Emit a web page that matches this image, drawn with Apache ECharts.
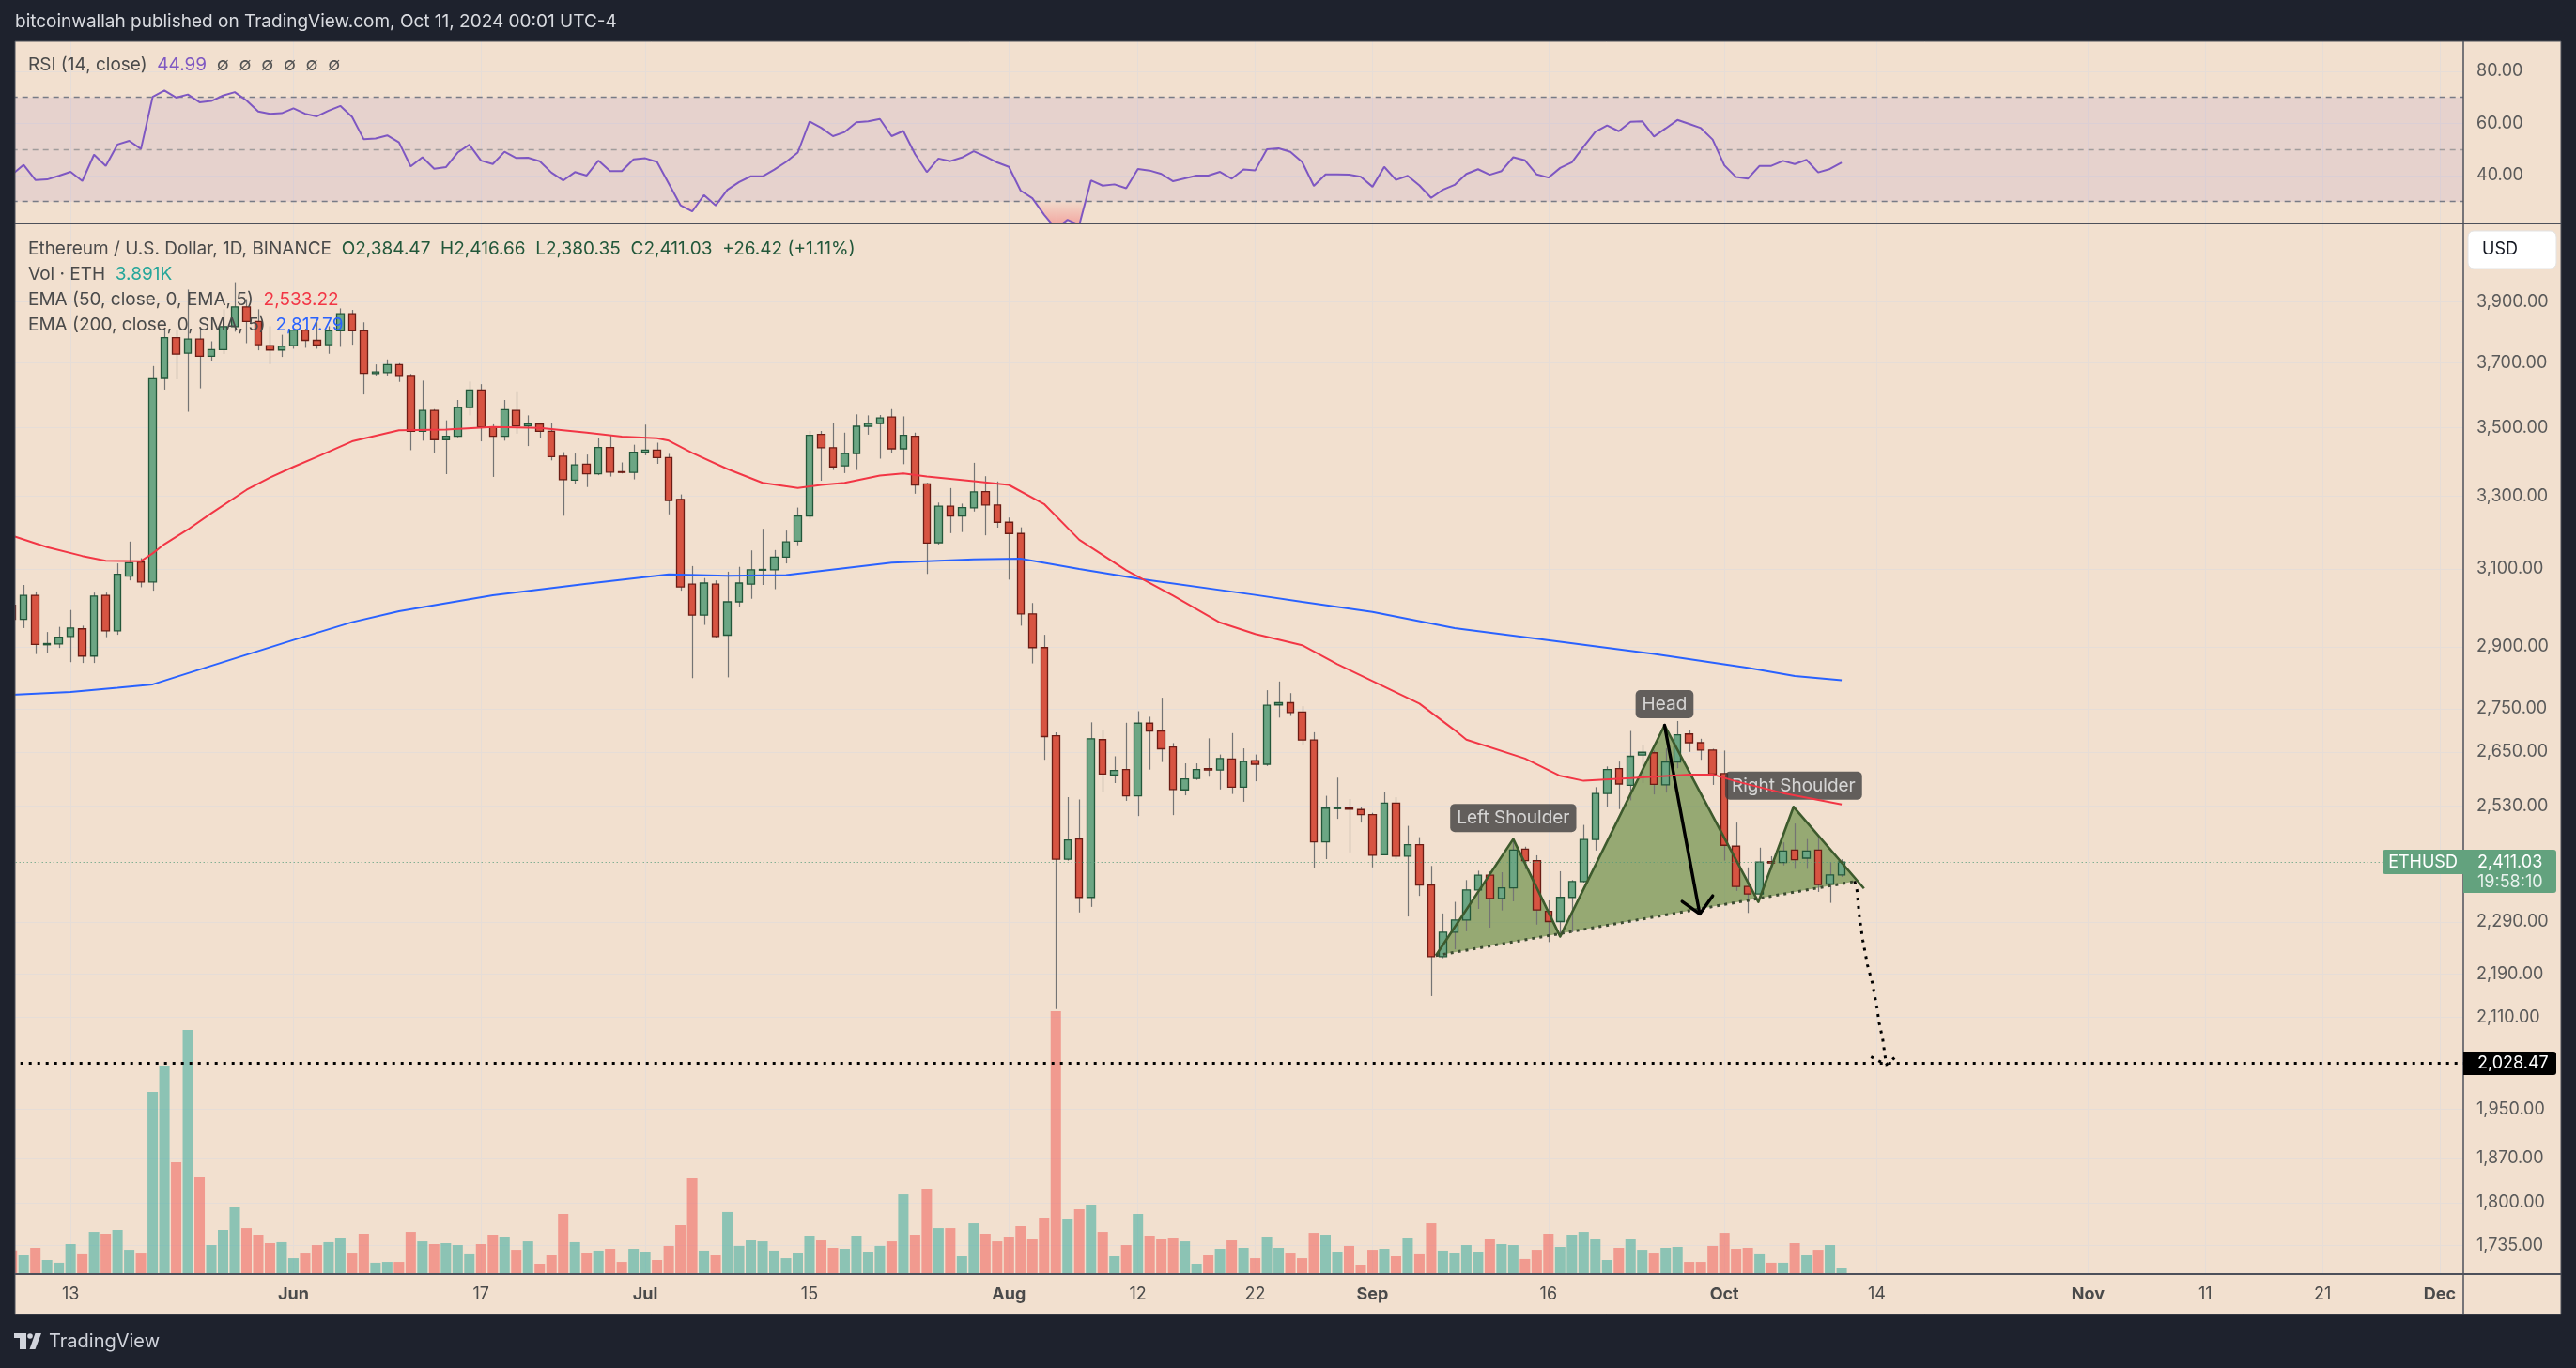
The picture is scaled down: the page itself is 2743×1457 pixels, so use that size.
<!DOCTYPE html>
<html>
<head>
<meta charset="utf-8">
<script src="https://cdn.jsdelivr.net/npm/echarts@6/dist/echarts.min.js"></script>
<style>
html,body{margin:0;padding:0;background:#1e222d;}
#c{width:2743px;height:1457px;}
</style>
</head>
<body>
<div id="c"></div>
<script>
// ---------------- DATA ----------------
const firstDay = [2024, 4, 8];   // 2024-05-08 (month is 0-based)
const dayCount = 210;            // through 2024-12-03

const openP = [3005,2969,3031,2905,2907,2926,2945,2877,3031,2940,
3081,3119,3066,3651,3781,3731,3776,3721,3742,3817,
3882,3834,3755,3741,3755,3805,3772,3758,3803,3859,
3803,3666,3669,3694,3660,3489,3552,3464,3474,3561,
3615,3502,3474,3552,3505,3511,3489,3415,3346,3392,
3364,3441,3370,3368,3427,3433,3411,3291,3060,2980,
3060,2929,3014,3060,3097,3098,3132,3175,3244,3480,
3440,3387,3423,3504,3512,3532,3437,3474,3335,3171,
3272,3244,3267,3313,3275,3227,3196,2983,2898,2687,
2417,2459,2339,2678,2598,2610,2552,2716,2698,2661,
2565,2590,2612,2609,2634,2571,2630,2622,2759,2764,
2742,2677,2453,2524,2526,2522,2511,2426,2536,2423,
2447,2364,2223,2270,2294,2354,2384,2337,2358,2438,
2414,2311,2291,2339,2371,2458,2557,2612,2575,2643,
2648,2576,2627,2691,2671,2654,2601,2444,2361,2346,
2412,2410,2436,2419,2436,2366,2384.47];

const highP = [3015,3058,3041,2937,2950,2993,2953,3038,3038,3115,
3174,3129,3690,3810,3805,3940,3810,3769,3874,3965,
3908,3874,3818,3790,3810,3810,3833,3818,3877,3872,
3831,3695,3711,3699,3665,3644,3556,3522,3584,3641,
3633,3510,3584,3611,3537,3514,3514,3427,3423,3420,
3468,3478,3397,3449,3509,3455,3422,3305,3108,3076,
3070,3093,3106,3150,3209,3151,3204,3268,3490,3490,
3514,3485,3540,3537,3538,3556,3534,3485,3338,3282,
3323,3279,3396,3357,3342,3240,3213,3011,2930,2695,
2549,2544,2718,2700,2640,2717,2744,2731,2776,2670,
2624,2624,2681,2644,2693,2658,2644,2794,2815,2787,
2756,2695,2552,2592,2545,2528,2515,2561,2549,2487,
2463,2403,2307,2330,2374,2393,2392,2390,2459,2443,
2425,2333,2392,2374,2489,2571,2617,2628,2698,2665,
2653,2658,2721,2700,2680,2657,2653,2494,2400,2441,
2423,2452,2492,2459,2466,2411,2416.66];

const lowP = [2950,2947,2882,2885,2897,2862,2860,2860,2924,2930,
3070,3052,3043,3616,3648,3548,3620,3706,3728,3800,
3763,3740,3696,3719,3745,3748,3745,3729,3751,3758,
3601,3660,3660,3640,3433,3461,3425,3363,3471,3537,
3459,3355,3461,3482,3445,3470,3403,3245,3335,3326,
3360,3356,3365,3348,3418,3393,3249,3043,2823,2955,
2921,2825,3000,3022,3058,3047,3115,3164,3237,3344,
3375,3366,3375,3479,3408,3424,3392,3307,3087,3166,
3197,3200,3257,3191,3212,3072,2953,2859,2632,2125,
2414,2309,2320,2561,2580,2541,2508,2610,2627,2510,
2553,2587,2594,2566,2556,2539,2584,2618,2729,2733,
2665,2398,2417,2502,2431,2494,2400,2425,2417,2301,
2342,2149,2220,2237,2272,2316,2279,2313,2331,2396,
2285,2251,2260,2270,2369,2435,2527,2523,2542,2580,
2555,2559,2613,2650,2632,2576,2414,2352,2308,2344,
2395,2404,2397,2397,2350,2328,2380.35];

const closeP = [2969,3031,2906,2908,2924,2947,2877,3029,2940,3086,
3117,3066,3650,3781,3728,3776,3721,3742,3817,3882,
3834,3758,3741,3753,3805,3772,3757,3803,3859,3803,
3667,3671,3694,3660,3489,3552,3464,3474,3561,3615,
3502,3474,3554,3505,3511,3489,3414,3347,3390,3364,
3441,3369,3368,3427,3433,3411,3288,3053,2980,3063,
2926,3014,3063,3098,3099,3132,3173,3244,3477,3440,
3384,3423,3504,3512,3529,3437,3477,3332,3170,3272,
3244,3268,3312,3275,3227,3196,2983,2898,2685,2417,
2457,2339,2680,2600,2608,2552,2716,2698,2657,2566,
2589,2610,2609,2635,2571,2628,2622,2758,2764,2741,
2677,2453,2525,2526,2523,2511,2425,2536,2423,2447,
2364,2223,2270,2294,2354,2384,2337,2358,2436,2414,
2314,2291,2339,2371,2458,2557,2610,2578,2640,2649,
2577,2627,2689,2671,2654,2600,2446,2361,2346,2411,
2409,2434,2416,2434,2365,2384.61,2411.03];

// volume in thousand ETH
const volumeK = [18.9,14.8,21.0,10.9,8.6,24.1,15.6,34.2,32.7,35.8,
19.4,16.3,150.1,171.9,91.8,201.5,79.3,23.3,35.8,55.2,
37.3,31.9,24.9,25.7,12.4,16.3,23.3,25.7,28.8,16.3,
32.7,8.6,9.3,9.3,34.2,26.4,24.1,24.9,23.3,15.6,
24.1,31.9,30.3,19.4,26.4,7.8,14.8,49.0,25.7,17.1,
18.7,20.2,9.3,20.2,17.9,10.9,22.6,39.7,78.6,18.7,
14.8,50.6,22.6,27.2,26.4,18.7,12.4,17.1,31.1,27.2,
21.0,20.2,31.1,17.9,22.6,26.4,65.3,31.9,70.0,37.3,
37.3,14.0,41.2,32.7,26.4,29.6,38.9,28.0,45.9,217.0,
45.1,52.9,56.8,34.2,14.0,23.3,49.0,31.1,28.0,28.8,
26.4,7.8,14.8,20.2,27.2,21.0,12.4,30.3,21.0,16.3,
12.4,33.4,31.9,17.9,22.6,7.0,19.4,20.2,14.0,28.8,
15.6,41.2,18.7,17.1,23.3,17.9,28.0,24.1,23.3,11.7,
19.4,32.7,21.8,31.9,34.2,28.0,10.9,21.0,28.0,19.4,
16.3,21.0,21.8,9.3,9.3,22.6,33.4,20.2,21.0,15.6,
8.6,8.6,24.9,14.8,19.4,23.3,3.891];

const rsi14 = [40.3,44.1,38.3,38.5,39.9,41.4,37.9,48.0,43.7,51.9,
53.3,50.2,70.2,72.6,69.9,71.1,68.1,68.6,70.7,72.0,
68.8,64.6,63.7,63.9,65.8,63.7,62.7,64.9,66.7,62.5,
53.9,54.2,55.4,52.7,43.5,47.0,42.6,43.2,48.8,51.8,
45.7,44.4,49.1,46.7,46.8,45.5,41.1,38.1,41.3,40.0,
45.7,41.7,41.7,46.2,46.6,45.2,36.9,28.6,26.2,32.5,
28.5,34.5,37.5,39.7,39.7,42.3,45.2,48.8,60.7,58.3,
55.1,56.7,60.4,60.8,61.7,55.1,57.1,48.2,41.3,46.5,
45.5,46.9,49.3,47.3,45.0,43.3,34.2,31.3,25.0,19.5,
23.0,21.0,38.1,36.1,36.6,35.1,42.5,41.9,40.6,37.8,
38.9,40.0,40.0,41.4,38.8,42.3,42.0,50.1,50.4,49.1,
45.2,36.0,40.4,40.4,40.3,39.5,35.7,43.3,38.3,39.9,
36.2,31.4,34.5,36.4,40.6,42.4,40.3,41.7,47.0,45.8,
40.4,39.2,42.9,45.1,51.1,56.8,59.2,57.0,60.6,60.8,
55.0,58.1,61.3,59.8,58.2,53.8,43.9,39.4,38.8,43.7,
43.7,45.6,44.4,46.0,41.2,42.5,44.99];

// EMA readings (day index from 2024-05-08, value)
const ema50Day = [0,3,6,8,11,12,13,15,17,20,22,24,26,29,33,37,41,45,49,52,55,56,58,61,64,67,69,71,74,76,78,82,85,88,91,95,99,103,106,110,113,116,120,123,124,129,132,134,138,143,145,147,151,156];
const ema50Val = [3190,3159,3135,3122,3121,3142,3167,3207,3252,3318,3353,3384,3413,3459,3492,3494,3502,3499,3485,3473,3468,3461,3425,3378,3338,3323,3332,3338,3359,3365,3356,3343,3332,3278,3179,3097,3030,2961,2932,2904,2857,2816,2762,2700,2678,2635,2596,2585,2591,2599,2599,2584,2558,2533.22];
const ema200Day = [0,5,9,12,17,24,29,33,41,49,56,61,66,75,82,86,91,96,106,110,116,123,130,140,148,152,156];
const ema200Val = [2783,2790,2800,2808,2853,2917,2962,2990,3031,3061,3086,3082,3084,3117,3126,3128,3100,3075,3032,3014,2988,2947,2920,2882,2848,2828,2817.79];

// axis ticks
const xTickDates = ['2024-05-13','2024-06-01','2024-06-17','2024-07-01','2024-07-15','2024-08-01','2024-08-12','2024-08-22','2024-09-01','2024-09-16','2024-10-01','2024-10-14','2024-11-01','2024-11-11','2024-11-21','2024-12-01'];
const xTickLabels = ['13','Jun','17','Jul','15','Aug','12','22','Sep','16','Oct','14','Nov','11','21','Dec'];
const priceTicks = [3900,3700,3500,3300,3100,2900,2750,2650,2530,2290,2190,2110,1950,1870,1800,1735];
const rsiTicks = [40,60,80];
const rsiLevels = [70, 50, 30];

// head & shoulders drawing (day index, price)
const hsZigzag = [[121.4,2225],[128.0,2459],[132.0,2262],[140.9,2711],[148.9,2330],[151.9,2528],[157.9,2357]];
const hsFill = [[121.4,2225],[128.0,2459],[132.0,2262],[140.9,2711],[148.9,2330],[151.9,2528],[157.3,2372]];
const neckline = [[121.4,2225],[157.3,2372]];
const headArrow = [[140.9,2711],[143.9,2306]];
const headArrowTip = [[142.4,2331],[143.9,2306],[145.0,2342]];
const projection = [[157.1,2372],[157.3,2354],[157.5,2303],[157.8,2255],[158.2,2207],[158.6,2175],[159.0,2129],[159.2,2100],[159.5,2071],[159.7,2041],[159.8,2026]];
const projectionTip = [[158.5,2040],[159.8,2026],[160.6,2040]];
const patternLabelNames = ['Left Shoulder','Head','Right Shoulder'];
const patternLabelPoints = [[128.0,2459],[140.9,2711],[151.9,2528]];
const targetPrice = 2028.47;
const lastPrice = 2411.03;

// ---------------- BUILD ----------------
const F = 'Inter, "Noto Sans", sans-serif';
const cats = [];
for (let k = 0; k < dayCount; k++) {
  const d = new Date(Date.UTC(firstDay[0], firstDay[1], firstDay[2]) + k * 86400000);
  cats.push(d.toISOString().slice(0, 10));
}
const tickText = {};
xTickDates.forEach((d, k) => { tickText[d] = xTickLabels[k]; });
const isTick = (idx, val) => Object.prototype.hasOwnProperty.call(tickText, val);
const months = ['Jun','Jul','Aug','Sep','Oct','Nov','Dec','Jan','Feb','Mar','Apr','May'];
const fmt2 = v => Number(v).toLocaleString('en-US', {minimumFractionDigits: 2, maximumFractionDigits: 2});

const gridColor = '#e6ddd7';
const upBody = '#6ca684', downBody = '#d75442';
const upBorder = '#23573a', downBorder = '#6b1d15';

const bodies = openP.map((o, i) => [o, closeP[i], Math.min(o, closeP[i]), Math.max(o, closeP[i])]);
const wicks = openP.map((o, i) => [i, lowP[i], highP[i]]);
const ema50Data = ema50Day.map((d, k) => [cats[d], ema50Val[k]]);
const ema200Data = ema200Day.map((d, k) => [cats[d], ema200Val[k]]);
const labelData = patternLabelNames.map((n, k) => ({name: n, value: patternLabelPoints[k]}));
const rsiSegments = rsi14.slice(0, -1).map((v, i) => [i, v, rsi14[i + 1]]);

const chart = echarts.init(document.getElementById('c'), null, {renderer: 'canvas', width: 2743, height: 1457});

const gridBase = {left: 12.7, width: 2610.3, containLabel: false, outerBoundsMode: 'none', show: false};

const option = {
  animation: false,
  backgroundColor: '#f2e0cf',
  grid: [
    Object.assign({}, gridBase, {top: 44, height: 194}),
    Object.assign({}, gridBase, {top: 238, height: 1119}),
    Object.assign({}, gridBase, {top: 1056, height: 300})
  ],
  xAxis: [
    {type: 'category', gridIndex: 0, data: cats, boundaryGap: false,
     axisLine: {show: false}, axisTick: {show: false}, axisLabel: {show: false},
     splitLine: {show: true, interval: isTick, lineStyle: {color: gridColor, width: 1}}},
    {type: 'category', gridIndex: 1, data: cats, boundaryGap: false,
     axisLine: {show: false}, axisTick: {show: false},
     axisLabel: {show: true, interval: isTick, margin: 13,
       formatter: (v) => { const t = tickText[v] || ''; return months.indexOf(t) >= 0 ? '{m|' + t + '}' : '{d|' + t + '}'; },
       rich: {m: {fontSize: 18, fontWeight: 'bold', color: '#4a4a4a', fontFamily: F},
              d: {fontSize: 18, color: '#4a4a4a', fontFamily: F}}},
     splitLine: {show: true, interval: isTick, lineStyle: {color: gridColor, width: 1}}},
    {type: 'category', gridIndex: 2, data: cats, boundaryGap: false, show: false},
    {type: 'value', gridIndex: 1, min: 0, max: dayCount - 1, show: false, splitLine: {show: false}}
  ],
  yAxis: [
    {type: 'value', gridIndex: 0, position: 'right', min: 21.6, max: 91.5, scale: true,
     axisLine: {show: false}, axisTick: {show: false, customValues: rsiTicks},
     axisLabel: {customValues: rsiTicks, formatter: v => Number(v).toFixed(2), color: '#5a5a5a', fontSize: 18, fontFamily: F, margin: 14},
     splitLine: {show: true, lineStyle: {color: gridColor, width: 1}}},
    {type: 'log', logBase: 10, gridIndex: 1, position: 'right', min: 1693, max: 4170,
     axisLine: {show: false}, axisTick: {show: false, customValues: priceTicks},
     axisLabel: {customValues: priceTicks, formatter: fmt2, color: '#5a5a5a', fontSize: 18, fontFamily: F, margin: 14},
     splitLine: {show: true, lineStyle: {color: gridColor, width: 1}}},
    {type: 'value', gridIndex: 2, min: 0, max: 233.4, show: false, splitLine: {show: false}}
  ],
  series: [
    {name: 'RSI oversold fill', type: 'custom', xAxisIndex: 0, yAxisIndex: 0, data: rsiSegments, z: 3, clip: true,
     encode: {x: 0, y: 1},
     renderItem: (params, api) => {
       const i = api.value(0), a = api.value(1), b = api.value(2), lv = 30;
       if (a >= lv && b >= lv) return null;
       const p0 = api.coord([i, lv]), p1 = api.coord([i + 1, lv]);
       const pa = api.coord([i, a]), pb = api.coord([i + 1, b]);
       const yBot = api.coord([i, 21.6])[1];
       let pts;
       if (a < lv && b < lv) pts = [p0, pa, pb, p1];
       else if (a < lv) { const t = (lv - a) / (b - a); pts = [p0, pa, [p0[0] + t * (p1[0] - p0[0]), p0[1]]]; }
       else { const t = (a - lv) / (a - b); pts = [[p0[0] + t * (p1[0] - p0[0]), p0[1]], pb, p1]; }
       return {type: 'polygon', shape: {points: pts},
         style: {fill: new echarts.graphic.LinearGradient(0, p0[1], 0, yBot, [
           {offset: 0, color: 'rgba(242,54,69,0.04)'}, {offset: 1, color: 'rgba(242,54,69,0.32)'}], true)}};
     }},
    {name: 'RSI', type: 'line', xAxisIndex: 0, yAxisIndex: 0, data: rsi14, symbol: 'none', z: 5,
     lineStyle: {color: '#7e57c2', width: 2}, clip: true,
     markArea: {silent: true, itemStyle: {color: 'rgba(126,87,194,0.1)'}, data: [[{yAxis: 30}, {yAxis: 70}]]},
     markLine: {silent: true, symbol: ['none', 'none'], label: {show: false},
       data: [
         {yAxis: rsiLevels[0], lineStyle: {color: '#787b86', type: [6, 5], width: 1.3}},
         {yAxis: rsiLevels[1], lineStyle: {color: '#a09c9c', type: [6, 5], width: 1.3}},
         {yAxis: rsiLevels[2], lineStyle: {color: '#787b86', type: [6, 5], width: 1.3}}
       ]}},
    {name: 'Volume', type: 'bar', xAxisIndex: 2, yAxisIndex: 2, data: volumeK, barWidth: 11, z: 1,
     itemStyle: {color: (p) => closeP[p.dataIndex] >= openP[p.dataIndex] ? 'rgba(38,166,154,0.5)' : 'rgba(239,83,80,0.5)'}},
    {name: 'Wicks', type: 'custom', xAxisIndex: 1, yAxisIndex: 1, data: wicks, z: 3, clip: true,
     encode: {x: 0, y: [1, 2]},
     renderItem: (params, api) => {
       const i = api.value(0);
       const a = api.coord([i, api.value(1)]);
       const b = api.coord([i, api.value(2)]);
       const x = Math.round(a[0]) + 0.5;
       return {type: 'line', shape: {x1: x, y1: a[1], x2: x, y2: b[1]}, style: {stroke: '#747474', lineWidth: 1.2}};
     }},
    {name: 'ETHUSD', type: 'candlestick', xAxisIndex: 1, yAxisIndex: 1, data: bodies, barWidth: 8, z: 4,
     itemStyle: {color: upBody, color0: downBody, borderColor: upBorder, borderColor0: downBorder, borderWidth: 1.3},
     markLine: {silent: true, symbol: ['none', 'none'], label: {show: false},
       data: [
         {yAxis: lastPrice, lineStyle: {color: '#4f9a78', type: [1, 3], width: 1}},
         {yAxis: targetPrice, lineStyle: {color: '#000000', type: [3, 6], width: 3}}
       ]}},
    {name: 'H&S fill', type: 'custom', xAxisIndex: 3, yAxisIndex: 1, data: [hsFill[0]], z: 2, clip: true,
     renderItem: (params, api) => ({
       type: 'polygon', shape: {points: hsFill.map(p => api.coord(p))},
       style: {fill: 'rgba(89,131,54,0.6)'}
     })},
    {name: 'H&S outline', type: 'line', xAxisIndex: 3, yAxisIndex: 1, data: hsZigzag, symbol: 'none', z: 5,
     lineStyle: {color: '#3d5a2d', width: 2.6, join: 'round'}},
    {name: 'Neckline', type: 'line', xAxisIndex: 3, yAxisIndex: 1, data: neckline, symbol: 'none', z: 5,
     lineStyle: {color: '#3a4a31', width: 3, type: [3, 5]}},
    {name: 'Head arrow', type: 'line', xAxisIndex: 3, yAxisIndex: 1, data: headArrow, symbol: 'none', z: 5,
     lineStyle: {color: '#000000', width: 3.4, cap: 'round'}},
    {name: 'Head arrow tip', type: 'line', xAxisIndex: 3, yAxisIndex: 1, data: headArrowTip, symbol: 'none', z: 5,
     lineStyle: {color: '#000000', width: 3.4, cap: 'round', join: 'round'}},
    {name: 'Projection', type: 'line', xAxisIndex: 3, yAxisIndex: 1, data: projection, symbol: 'none', z: 5, clip: false,
     lineStyle: {color: '#000000', width: 3, type: [3, 6]}},
    {name: 'Projection tip', type: 'line', xAxisIndex: 3, yAxisIndex: 1, data: projectionTip, symbol: 'none', z: 5, clip: false,
     lineStyle: {color: '#000000', width: 3, type: [3, 6]}},
    {name: 'Pattern labels', type: 'scatter', xAxisIndex: 3, yAxisIndex: 1, data: labelData, symbol: 'circle', symbolSize: 1, z: 6,
     itemStyle: {color: 'rgba(0,0,0,0)'},
     label: {show: true, position: 'top', distance: 7, formatter: '{b}', color: '#f2f2f2', fontSize: 19, fontFamily: F,
       backgroundColor: '#3d3d3d', padding: [6, 7, 5, 7], borderRadius: 5}},
    {name: 'EMA 200', type: 'line', xAxisIndex: 1, yAxisIndex: 1, data: ema200Data, symbol: 'none', z: 8,
     lineStyle: {color: '#2962ff', width: 2}},
    {name: 'EMA 50', type: 'line', xAxisIndex: 1, yAxisIndex: 1, data: ema50Data, symbol: 'none', z: 8,
     lineStyle: {color: '#f23645', width: 2}}
  ]
};
chart.setOption(option);

// ---------------- OVERLAY (frame, legends, axis boxes) ----------------
const yLast = chart.convertToPixel({yAxisIndex: 1}, lastPrice);
const yTarget = chart.convertToPixel({yAxisIndex: 1}, targetPrice);
const dark = '#1e222d';
const sep = '#4d505a';
const txt = (x, y, text, size, fill, extra) => Object.assign({type: 'text', x: x, y: y, z: 120,
  style: Object.assign({text: text, fontSize: size, fontFamily: F, fill: fill, align: 'left', verticalAlign: 'middle', textAlign: 'left', textVerticalAlign: 'middle'}, extra || {})});
const LF = 19;
const richTxt = (x, y, text, rich) => ({type: 'text', x: x, y: y, z: 120,
  style: {text: text, rich: rich, fontSize: LF, fontFamily: F, align: 'left', verticalAlign: 'middle', textAlign: 'left', textVerticalAlign: 'middle'}});
const rs = (c, w) => ({fill: c, color: c, fontSize: LF, fontFamily: F, fontWeight: w || 'normal'});

chart.setOption({
  graphic: [
    // dark outer margins
    {type: 'rect', z: 100, shape: {x: 0, y: 0, width: 2743, height: 44}, style: {fill: dark}},
    {type: 'rect', z: 100, shape: {x: 0, y: 1400, width: 2743, height: 57}, style: {fill: dark}},
    {type: 'rect', z: 100, shape: {x: 0, y: 0, width: 16, height: 1457}, style: {fill: dark}},
    {type: 'rect', z: 100, shape: {x: 2727, y: 0, width: 16, height: 1457}, style: {fill: dark}},
    // frame & separators
    {type: 'rect', z: 110, shape: {x: 16, y: 44, width: 2711, height: 1356}, style: {fill: 'none', stroke: sep, lineWidth: 1}},
    {type: 'line', z: 110, shape: {x1: 16, y1: 238, x2: 2727, y2: 238}, style: {stroke: sep, lineWidth: 2}},
    {type: 'line', z: 110, shape: {x1: 16, y1: 1357, x2: 2727, y2: 1357}, style: {stroke: sep, lineWidth: 2}},
    {type: 'line', z: 110, shape: {x1: 2623, y1: 44, x2: 2623, y2: 1400}, style: {stroke: sep, lineWidth: 1.5}},
    // header
    txt(16, 23, 'bitcoinwallah published on TradingView.com, Oct 11, 2024 00:01 UTC-4', 19, '#d9dbe0'),
    // RSI legend
    richTxt(30, 69, '{a|RSI (14, close)}  {b|44.99}  {c|∅  ∅  ∅  ∅  ∅  ∅}', {a: rs('#4a4a4a'), b: rs('#7e57c2'), c: rs('#555555')}),
    // price legends
    richTxt(30, 265, '{a|Ethereum / U.S. Dollar, 1D, BINANCE}  {g|O2,384.47}  {g|H2,416.66}  {g|L2,380.35}  {g|C2,411.03}  {g|+26.42 (+1.11%)}',
      {a: rs('#4a4a4a'), g: rs('#22573a')}),
    richTxt(30, 292, '{a|Vol · ETH}  {t|3.891K}', {a: rs('#4a4a4a'), t: rs('#26a69a')}),
    richTxt(30, 319, '{a|EMA (50, close, 0, EMA, 5)}  {r|2,533.22}', {a: rs('#4a4a4a'), r: rs('#f23645')}),
    richTxt(30, 346, '{a|EMA (200, close, 0, SMA, 5)}  {b|2,817.79}', {a: rs('#4a4a4a'), b: rs('#2962ff')}),
    // USD box
    {type: 'rect', z: 115, shape: {x: 2628, y: 246, width: 94, height: 40, r: 6}, style: {fill: '#ffffff', stroke: '#e3e3e3', lineWidth: 1}},
    txt(2643, 266, 'USD', 18, '#131722'),
    // last price boxes
    {type: 'rect', z: 115, shape: {x: 2537, y: yLast - 13, width: 86, height: 26, r: [3, 0, 0, 3]}, style: {fill: '#63a27e'}},
    txt(2580, yLast, 'ETHUSD', 18, '#ffffff', {align: 'center', textAlign: 'center'}),
    {type: 'rect', z: 115, shape: {x: 2623, y: yLast - 13, width: 99, height: 46, r: [0, 3, 3, 0]}, style: {fill: '#63a27e'}},
    txt(2638, yLast, '2,411.03', 18, '#ffffff'),
    txt(2638, yLast + 21, '19:58:10', 18, 'rgba(255,255,255,0.85)'),
    // target box
    {type: 'rect', z: 115, shape: {x: 2623, y: yTarget - 12.5, width: 99, height: 25, r: [0, 3, 3, 0]}, style: {fill: '#000000'}},
    txt(2638, yTarget, '2,028.47', 18, '#ffffff'),
    // TradingView logo
    {type: 'rect', z: 120, shape: {x: 15, y: 1420, width: 13, height: 5}, style: {fill: '#d1d4dc'}},
    {type: 'rect', z: 120, shape: {x: 21, y: 1420, width: 7, height: 17}, style: {fill: '#d1d4dc'}},
    {type: 'circle', z: 120, shape: {cx: 32, cy: 1423, r: 2.8}, style: {fill: '#d1d4dc'}},
    {type: 'polygon', z: 120, shape: {points: [[37.5, 1420], [44, 1420], [37.5, 1437], [31.5, 1437]]}, style: {fill: '#d1d4dc'}},
    txt(52, 1429, 'TradingView', 20, '#d1d4dc')
  ]
});
</script>
</body>
</html>
